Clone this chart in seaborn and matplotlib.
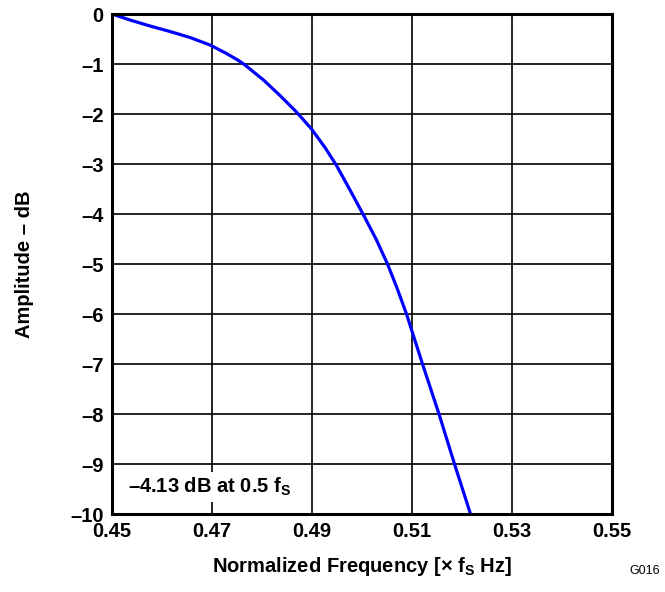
import matplotlib
matplotlib.use("Agg")
import matplotlib.pyplot as plt
import seaborn as sns
import pandas as pd

# Respuesta en amplitud
freq = [0.45, 0.4536, 0.4576, 0.4616, 0.4656, 0.4696, 0.4729, 0.4753, 0.4766,
        0.4803, 0.4836, 0.4869, 0.4899, 0.4926, 0.4949, 0.4976, 0.5003, 0.5029,
        0.5051, 0.5070, 0.5089, 0.5105, 0.5121, 0.5154, 0.5185, 0.5217]
amp_db = [0.0, -0.12, -0.24, -0.35, -0.47, -0.62, -0.79, -0.93, -1.02,
          -1.32, -1.63, -1.96, -2.30, -2.67, -3.03, -3.52, -4.02, -4.52,
          -5.0, -5.48, -6.0, -6.5, -7.0, -8.0, -9.0, -10.0]

x_ticks = [0.45, 0.47, 0.49, 0.51, 0.53, 0.55]
x_labels = ["0.45", "0.47", "0.49", "0.51", "0.53", "0.55"]
y_ticks = list(range(0, -11, -1))
y_labels = ["0"] + ["\u2013" + str(abs(v)) for v in y_ticks[1:]]

df = pd.DataFrame({"freq": freq, "amp": amp_db})

sns.set_style("white")
plt.rcParams["font.family"] = ["Liberation Sans", "DejaVu Sans"]
plt.rcParams["font.weight"] = "bold"
plt.rcParams["text.color"] = "black"
plt.rcParams["axes.labelcolor"] = "black"
plt.rcParams["xtick.color"] = "black"
plt.rcParams["ytick.color"] = "black"
plt.rcParams["mathtext.fontset"] = "custom"
plt.rcParams["mathtext.rm"] = "Liberation Sans:bold"
plt.rcParams["mathtext.it"] = "Liberation Sans:bold"
plt.rcParams["mathtext.bf"] = "Liberation Sans:bold"

fig = plt.figure(figsize=(6.65, 5.92), dpi=100)
ax = fig.add_axes([112 / 665, 78 / 592, 500 / 665, 500 / 592])

sns.lineplot(data=df, x="freq", y="amp", ax=ax, color="#0000ff", lw=2.3,
             sort=False, zorder=3)

ax.set_xlim(0.45, 0.55)
ax.set_ylim(-10, 0)
ax.set_xticks(x_ticks)
ax.set_xticklabels(x_labels, fontsize=14.5, fontweight="bold")
ax.set_yticks(y_ticks)
ax.set_yticklabels(y_labels, fontsize=14.5, fontweight="bold")
ax.tick_params(length=0, pad=6)

# rejilla
for v in [0.47, 0.49, 0.51, 0.53]:
    ax.axvline(v, color="black", lw=1.2, zorder=1)
for v in y_ticks[1:-1]:
    ax.axhline(v, color="black", lw=1.2, zorder=1)

for s in ax.spines.values():
    s.set_linewidth(2.2)
    s.set_color("black")
    s.set_zorder(4)

ax.set_xlabel(r"Normalized Frequency [$\times$ $f_S$ Hz]", fontsize=14.5,
              fontweight="bold", labelpad=10)
ax.set_ylabel("Amplitude \u2013 dB", fontsize=14.5, fontweight="bold", labelpad=26)

ax.text(0.4532, -9.46, "\u20134.13 dB at 0.5 $f_S$",
        fontsize=14.5, fontweight="bold", va="center", ha="left", zorder=2,
        bbox=dict(facecolor="white", edgecolor="none", pad=3))

fig.text(0.992, 0.025, "G016", fontsize=9, fontweight="normal", ha="right",
         va="bottom")

fig.savefig("out.png", dpi=100)
